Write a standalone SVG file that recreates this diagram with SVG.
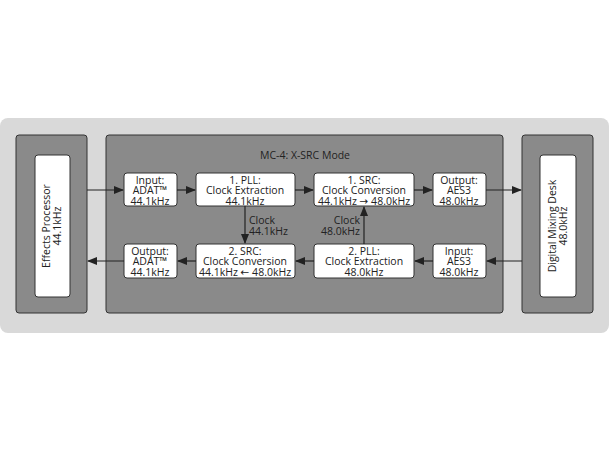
<svg xmlns="http://www.w3.org/2000/svg" width="610" height="450" viewBox="0 0 610 450">
<style>
text{font-family:"Open Sans","DejaVu Sans",sans-serif;font-size:10.5px;fill:#222;text-anchor:middle}
.dk{fill:#8a8a8a;stroke:#333;stroke-width:1}
.wb{fill:#fff;stroke:#333;stroke-width:1}
.ln{stroke:#222;stroke-width:1.2;fill:none;marker-end:url(#a)}
</style>
<defs><marker id="a" markerWidth="10" markerHeight="8" refX="9" refY="4" orient="auto" markerUnits="userSpaceOnUse"><path d="M0,0L10,4L0,8z" fill="#222"/></marker></defs>
<rect width="610" height="450" fill="#fff"/>
<rect x="0" y="118" width="609" height="215" rx="8" fill="#d9d9d9"/>
<g id="effects"><rect class="dk" x="16" y="135" width="71" height="178" rx="3"/><rect class="wb" x="35" y="155" width="35" height="142" rx="3"/>
<text transform="translate(52,226) rotate(-90)"><tspan x="0" dy="-2">Effects Processor</tspan><tspan x="0" dy="11">44.1kHz</tspan></text></g>
<g id="mixer"><rect class="dk" x="522" y="135" width="71" height="178" rx="3"/><rect class="wb" x="540" y="155" width="36" height="142" rx="3"/>
<text transform="translate(558,226) rotate(-90)"><tspan x="0" dy="-2">Digital Mixing Desk</tspan><tspan x="0" dy="11">48.0kHz</tspan></text></g>
<g id="mc4"><rect class="dk" x="106" y="135" width="397" height="178" rx="3"/><text x="305" y="159">MC-4: X-SRC Mode</text></g>
<g id="in1"><rect class="wb" x="124" y="173" width="53" height="33" rx="3"/><text x="150" y="183.5">Input:</text><text x="150" y="194">ADAT™</text><text x="150" y="204.5">44.1kHz</text></g>
<g id="pll1"><rect class="wb" x="196" y="173" width="99" height="33" rx="3"/><text x="245" y="183.5">1. PLL:</text><text x="245" y="194">Clock Extraction</text><text x="245" y="204.5">44.1kHz</text></g>
<g id="src1"><rect class="wb" x="314" y="173" width="100" height="33" rx="3"/><text x="364" y="183.5">1. SRC:</text><text x="364" y="194">Clock Conversion</text><text x="364" y="204.5">44.1kHz → 48.0kHz</text></g>
<g id="out1"><rect class="wb" x="433" y="173" width="53" height="33" rx="3"/><text x="459" y="183.5">Output:</text><text x="459" y="194">AES3</text><text x="459" y="204.5">48.0kHz</text></g>
<g id="out2"><rect class="wb" x="124" y="244" width="53" height="34" rx="3"/><text x="150" y="254.5">Output:</text><text x="150" y="265">ADAT™</text><text x="150" y="275.5">44.1kHz</text></g>
<g id="src2"><rect class="wb" x="196" y="244" width="99" height="34" rx="3"/><text x="245" y="254.5">2. SRC:</text><text x="245" y="265">Clock Conversion</text><text x="245" y="275.5">44.1kHz ← 48.0kHz</text></g>
<g id="pll2"><rect class="wb" x="314" y="244" width="100" height="34" rx="3"/><text x="364" y="254.5">2. PLL:</text><text x="364" y="265">Clock Extraction</text><text x="364" y="275.5">48.0kHz</text></g>
<g id="in2"><rect class="wb" x="433" y="244" width="53" height="34" rx="3"/><text x="459" y="254.5">Input:</text><text x="459" y="265">AES3</text><text x="459" y="275.5">48.0kHz</text></g>
<g id="connectors">
<path class="ln" d="M87,190H123"/><path class="ln" d="M177,190H195"/><path class="ln" d="M295,190H313"/><path class="ln" d="M414,190H432"/><path class="ln" d="M486,190H521"/>
<path class="ln" d="M522,261H487"/><path class="ln" d="M433,261H415"/><path class="ln" d="M314,261H296"/><path class="ln" d="M196,261H178"/><path class="ln" d="M124,261H88"/>
<path class="ln" d="M245,206V243"/><path class="ln" d="M364,244V207"/>
<text x="249" y="224" style="text-anchor:start">Clock</text><text x="249" y="234.5" style="text-anchor:start">44.1kHz</text>
<text x="360" y="224" style="text-anchor:end">Clock</text><text x="360" y="234.5" style="text-anchor:end">48.0kHz</text>
</g>
</svg>
